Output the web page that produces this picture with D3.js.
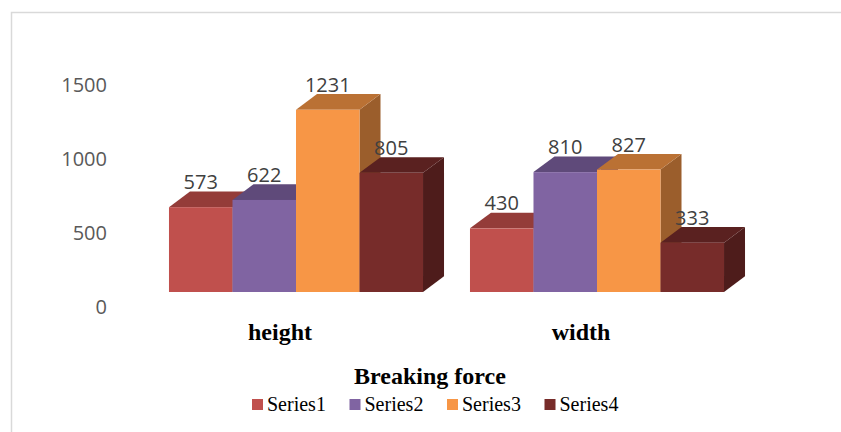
<!DOCTYPE html>
<html>
<head>
<meta charset="utf-8">
<script src="https://cdn.jsdelivr.net/npm/d3@7"></script>
<style>
  html, body { margin: 0; padding: 0; background: #ffffff; }
  svg { display: block; }
</style>
</head>
<body>
<svg id="chart" width="841" height="432"></svg>
<script>
// ---- data ----
const categories = ["height", "width"];
const seriesNames = ["Series1", "Series2", "Series3", "Series4"];
const series1 = [573, 430];
const series2 = [622, 810];
const series3 = [1231, 827];
const series4 = [805, 333];
const yTicks = [0, 500, 1000, 1500];
const chartTitle = "Breaking force";

const seriesValues = [series1, series2, series3, series4];
const frontColors = ["#C0504D", "#8064A2", "#F79646", "#772C2A"];
const topColors   = ["#943C39", "#5F4A7A", "#BA7134", "#5A2120"];
const sideColors  = ["#7A2F2D", "#4F3E66", "#9B5E2C", "#4E1C1B"];

const svg = d3.select("#chart");

// frame
svg.append("path")
  .attr("d", "M11.5,432 L11.5,12.5 L841,12.5")
  .attr("fill", "none").attr("stroke", "#d9d9d9").attr("stroke-width", 1.5);

// scales
const y = d3.scaleLinear().domain([0, 1500]).range([292, 70]);
const x0 = d3.scaleBand().domain(categories).range([145.5, 747.5])
  .paddingInner(0.156).paddingOuter(0.078);
const x1 = d3.scaleBand().domain(seriesNames).range([0, x0.bandwidth()]).padding(0);
const dx = 21, dy = 15.7;

// y tick labels (via axis generator, no line)
const yAxis = d3.axisLeft(y.copy().range([306, 84])).tickValues(yTicks)
  .tickFormat(d3.format("d")).tickSize(0).tickPadding(0);
const ga = svg.append("g").attr("transform", "translate(107,0)").call(yAxis);
ga.select(".domain").remove();
ga.selectAll("text")
  .attr("font-family", "'Open Sans', sans-serif").attr("font-size", 20)
  .attr("fill", "#595959").attr("dy", "0.35em");

// bars
categories.forEach((cat, ci) => {
  const g = svg.append("g");
  seriesNames.forEach((s, si) => {
    const v = seriesValues[si][ci];
    const xl = x0(cat) + x1(s);
    const xr = xl + x1.bandwidth();
    const yt = y(v), yb = y(0);
    // side
    g.append("path")
      .attr("d", `M${xr},${yt} L${xr+dx},${yt-dy} L${xr+dx},${yb-dy} L${xr},${yb} Z`)
      .attr("fill", sideColors[si]);
    // top
    g.append("path")
      .attr("d", `M${xl},${yt} L${xl+dx},${yt-dy} L${xr+dx},${yt-dy} L${xr},${yt} Z`)
      .attr("fill", topColors[si]);
    // front
    g.append("rect")
      .attr("x", xl).attr("y", yt)
      .attr("width", x1.bandwidth()).attr("height", yb - yt)
      .attr("fill", frontColors[si]);
  });
  // data labels
  seriesNames.forEach((s, si) => {
    const v = seriesValues[si][ci];
    g.append("text")
      .attr("x", x0(cat) + x1(s) + x1.bandwidth() / 2)
      .attr("y", y(v) - 18)
      .attr("text-anchor", "middle")
      .attr("font-family", "'Open Sans', sans-serif").attr("font-size", 20)
      .attr("fill", "#404040")
      .text(v);
  });
  // category label
  svg.append("text")
    .attr("x", x0(cat) + x0.bandwidth() / 2 - 16)
    .attr("y", 340)
    .attr("text-anchor", "middle")
    .attr("font-family", "'Liberation Serif', 'Times New Roman', serif")
    .attr("font-weight", "bold").attr("font-size", 24)
    .attr("fill", "#000")
    .text(cat);
});

// title
svg.append("text")
  .attr("x", 430).attr("y", 384)
  .attr("text-anchor", "middle")
  .attr("font-family", "'Liberation Serif', 'Times New Roman', serif")
  .attr("font-weight", "bold").attr("font-size", 24)
  .attr("fill", "#000")
  .text(chartTitle);

// legend
const legend = svg.append("g");
seriesNames.forEach((s, si) => {
  const lx = 252 + si * 97.5;
  legend.append("rect")
    .attr("x", lx).attr("y", 399).attr("width", 11).attr("height", 11)
    .attr("fill", frontColors[si]);
  legend.append("text")
    .attr("x", lx + 15).attr("y", 410.5)
    .attr("font-family", "'Liberation Serif', 'Times New Roman', serif")
    .attr("font-size", 20).attr("fill", "#000")
    .text(s);
});
</script>
</body>
</html>
